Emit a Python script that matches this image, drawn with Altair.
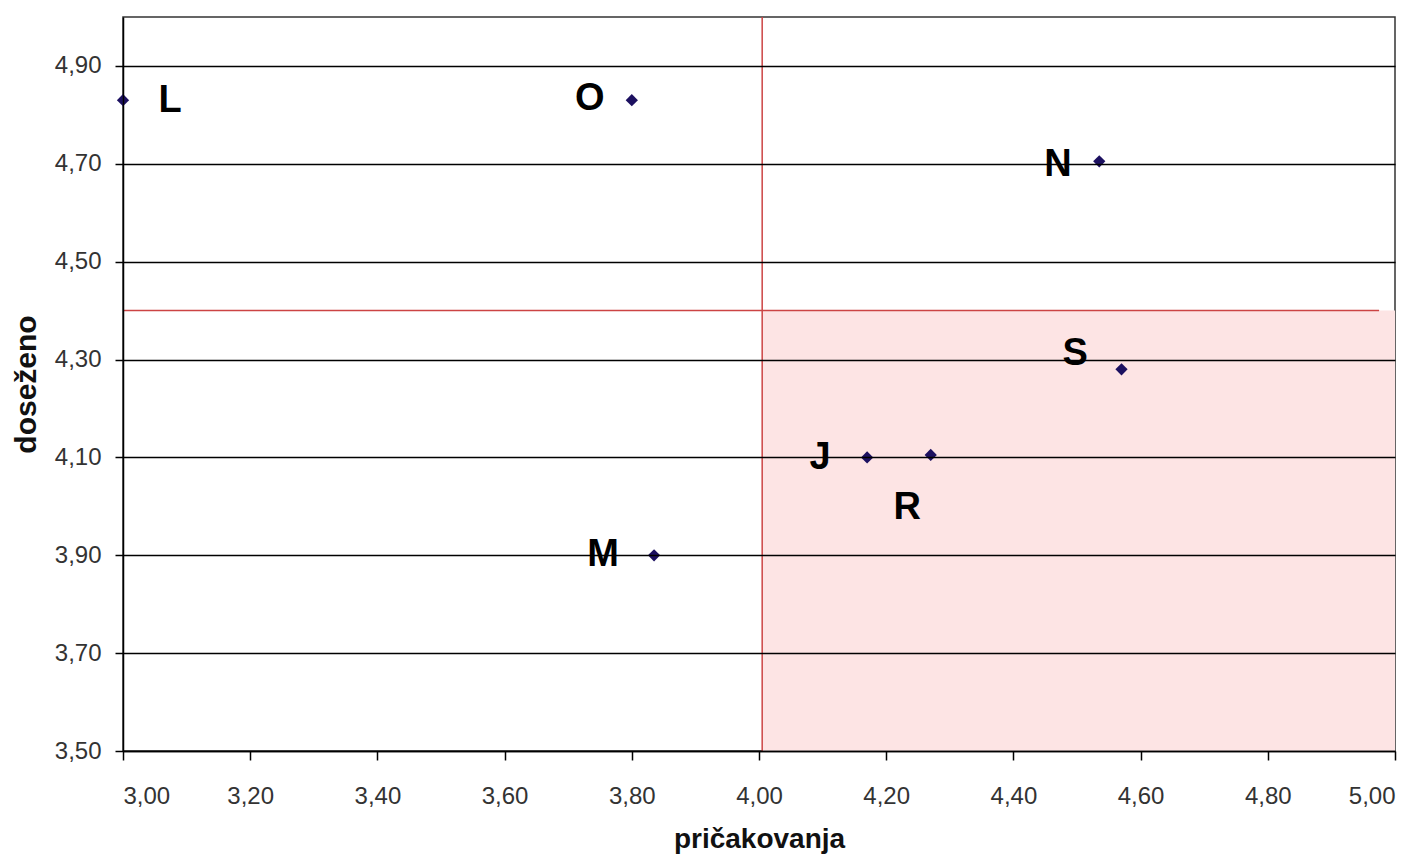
import altair as alt
import pandas as pd

# --- data ---
names = ["L", "O", "N", "S", "J", "R", "M"]
expect = [3.00, 3.80, 4.535, 4.57, 4.17, 4.27, 3.835]      # pričakovanja
achieved = [4.83, 4.83, 4.705, 4.28, 4.10, 4.105, 3.90]      # doseženo
label_x = [3.074, 3.734, 4.470, 4.497, 4.096, 4.233, 3.755]
label_y = [4.828, 4.832, 4.698, 4.312, 4.098, 3.997, 3.90]

x_ticks = [3.0, 3.2, 3.4, 3.6, 3.8, 4.0, 4.2, 4.4, 4.6, 4.8, 5.0]
y_ticks = [3.5, 3.7, 3.9, 4.1, 4.3, 4.5, 4.7, 4.9]
x_domain = [3.0, 5.0]
y_domain = [3.5, 5.0]

# reference lines and shaded quadrant
v_line_x = 4.005
h_line_y = 4.40
h_line_end = 4.975
region = {"x": 4.005, "x2": 5.0, "y": 3.5, "y2": 4.40}

points = pd.DataFrame({"name": names, "x": expect, "y": achieved})
labels = pd.DataFrame({"name": names, "x": label_x, "y": label_y})
region_df = pd.DataFrame([region])
vline_df = pd.DataFrame({"x": [v_line_x], "y": [y_domain[0]], "y2": [y_domain[1]]})
hline_df = pd.DataFrame({"x": [x_domain[0]], "x2": [h_line_end], "y": [h_line_y]})

fmt = "replace(format(datum.value, '.2f'), '.', ',')"
FONT = "Liberation Sans"

xscale = alt.Scale(domain=x_domain, nice=False, zero=False)
yscale = alt.Scale(domain=y_domain, nice=False, zero=False)

xaxis = alt.Axis(
    title="pričakovanja", values=x_ticks, labelExpr=fmt, grid=False,
    domainColor="#000", domainWidth=1.5, tickColor="#000", tickSize=9, tickWidth=1.5,
    labelFont=FONT, labelFontSize=24, labelColor="#333", labelPadding=24,
    titleFont=FONT, titleFontSize=28, titleFontWeight="bold", titleColor="#111",
    titleY=88, titleBaseline="middle", zindex=1,
)
yaxis = alt.Axis(
    title="doseženo", values=y_ticks, labelExpr=fmt, grid=True,
    gridColor="#000", gridWidth=1.5, gridOpacity=1,
    domainColor="#000", domainWidth=1.5, tickColor="#000", tickSize=8, tickWidth=1.5,
    labelFont=FONT, labelFontSize=24, labelColor="#333", labelPadding=14,
    titleFont=FONT, titleFontSize=30, titleFontWeight="bold", titleColor="#111",
    titleX=-97, titleBaseline="middle", titleAlign="center", zindex=1,
)

shade = alt.Chart(region_df).mark_rect(color="#fde4e4").encode(
    x=alt.X("x:Q", scale=xscale, axis=xaxis),
    x2="x2:Q",
    y=alt.Y("y:Q", scale=yscale, axis=yaxis),
    y2="y2:Q",
)

vline = alt.Chart(vline_df).mark_rule(color="#cc4444", strokeWidth=1.5).encode(
    x=alt.X("x:Q", scale=xscale), y=alt.Y("y:Q", scale=yscale), y2="y2:Q"
)
hline = alt.Chart(hline_df).mark_rule(color="#cc4444", strokeWidth=1.5).encode(
    x=alt.X("x:Q", scale=xscale), x2="x2:Q", y=alt.Y("y:Q", scale=yscale)
)

pts = alt.Chart(points).mark_point(
    shape="diamond", filled=True, color="#1c1060", size=150, opacity=1
).encode(x=alt.X("x:Q", scale=xscale), y=alt.Y("y:Q", scale=yscale))

txt = alt.Chart(labels).mark_text(
    font=FONT, fontSize=38, fontWeight="bold", color="#000",
    align="center", baseline="middle"
).encode(x=alt.X("x:Q", scale=xscale), y=alt.Y("y:Q", scale=yscale), text="name:N")

chart = alt.layer(shade, vline, hline, pts, txt).properties(
    width=1272, height=734,
    autosize=alt.AutoSizeParams(type="none"),
    padding={"left": 115, "top": 9, "right": 15, "bottom": 105},
    background="white",
).configure_view(stroke="#333", strokeWidth=1.5)

chart.save("out.html", embed_options={"renderer": "svg", "actions": False})
